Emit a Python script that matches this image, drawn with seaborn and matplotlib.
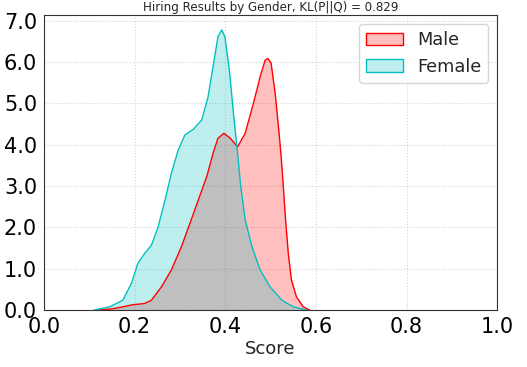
import matplotlib
matplotlib.use("Agg")
import matplotlib.pyplot as plt
import seaborn as sns
import pandas as pd
from matplotlib.patches import Patch

# density curves
male_x = [0.12, 0.150, 0.174, 0.196, 0.222, 0.237, 0.259, 0.281, 0.303, 0.322, 0.343, 0.359,
          0.374, 0.384, 0.397, 0.411, 0.427, 0.444, 0.462, 0.477, 0.488, 0.494, 0.501, 0.510,
          0.518, 0.523, 0.528, 0.533, 0.539, 0.546, 0.557, 0.572, 0.586]
male_y = [0.0, 0.03, 0.08, 0.13, 0.16, 0.24, 0.56, 0.97, 1.53, 2.10, 2.74, 3.23,
          3.83, 4.16, 4.28, 4.16, 3.95, 4.28, 5.00, 5.65, 6.05, 6.09, 5.98, 5.25,
          4.36, 3.75, 2.99, 2.18, 1.37, 0.73, 0.32, 0.08, 0.0]
female_x = [0.11, 0.145, 0.174, 0.193, 0.207, 0.222, 0.237, 0.252, 0.267, 0.281, 0.296, 0.311,
            0.329, 0.348, 0.362, 0.373, 0.384, 0.392, 0.399, 0.409, 0.418, 0.427, 0.434, 0.444,
            0.459, 0.477, 0.499, 0.525, 0.550, 0.580]
female_y = [0.0, 0.08, 0.24, 0.65, 1.13, 1.37, 1.57, 2.02, 2.66, 3.31, 3.87, 4.24,
            4.37, 4.60, 5.16, 5.89, 6.62, 6.78, 6.62, 5.81, 4.76, 3.80, 3.00, 2.18,
            1.53, 0.97, 0.56, 0.24, 0.08, 0.0]

male = pd.DataFrame({'Score': male_x, 'Density': male_y})
female = pd.DataFrame({'Score': female_x, 'Density': female_y})

sns.set_style('white')
fig = plt.figure(figsize=(5.27, 3.67), dpi=100)
ax = fig.add_axes([0.0835, 0.155, 0.86, 0.804])

ax.fill_between(male['Score'], male['Density'], color='red', alpha=0.25, linewidth=0)
sns.lineplot(data=male, x='Score', y='Density', color='red', lw=1, ax=ax)
ax.fill_between(female['Score'], female['Density'], color='c', alpha=0.25, linewidth=0)
sns.lineplot(data=female, x='Score', y='Density', color='c', lw=1, ax=ax)

ax.set_xlim(0, 1)
ax.set_ylim(0, 7.14)
ax.set_xticks([0, 0.2, 0.4, 0.6, 0.8, 1.0])
ax.set_yticks(range(8))
ax.set_xticklabels(['%.1f' % v for v in [0, 0.2, 0.4, 0.6, 0.8, 1.0]], fontsize=15)
ax.set_yticklabels(['%.1f' % v for v in range(8)], fontsize=15)
ax.tick_params(length=4, width=1, colors='black', pad=1)
ax.grid(True, linestyle=':', color='lightgray', lw=0.8)
for s in ax.spines.values():
    s.set_color('#333333')
ax.set_xlabel('Score', fontsize=13, labelpad=2)
ax.set_ylabel('')
ax.set_title('Hiring Results by Gender, KL(P||Q) = 0.829', fontsize=8.6, pad=3)

handles = [Patch(facecolor=(1, 0, 0, 0.25), edgecolor='red', label='Male'),
           Patch(facecolor=(0, 0.75, 0.75, 0.25), edgecolor='c', label='Female')]
ax.legend(handles=handles, loc='upper right', fontsize=12.8, handlelength=2.05,
          borderaxespad=0.5, framealpha=0.8)

fig.savefig('out.png', dpi=100)
